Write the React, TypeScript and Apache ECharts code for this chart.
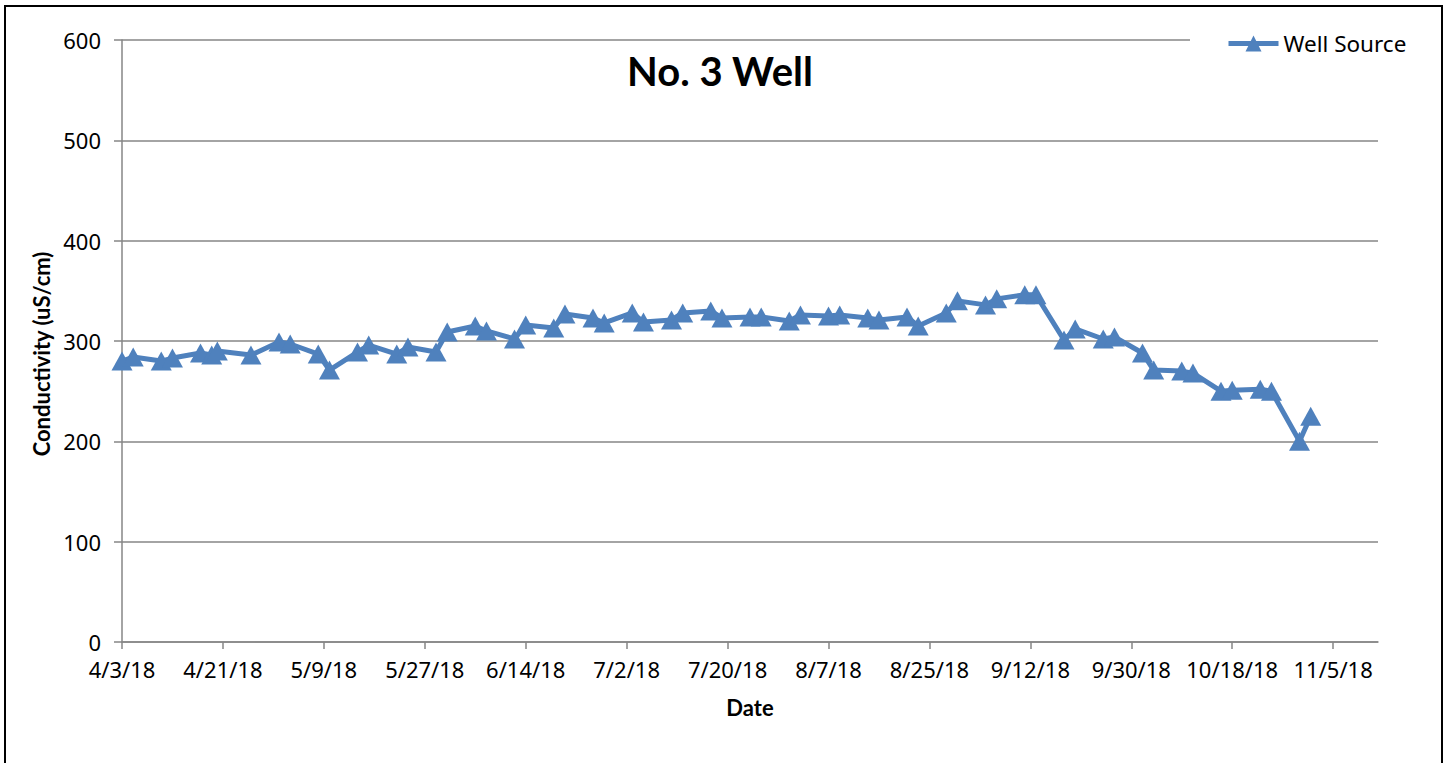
import React, { useEffect, useRef } from "react";
import * as echarts from "echarts";

const chartTitle = "No. 3 Well";
const seriesName = "Well Source";
const yAxisName = "Conductivity (uS/cm)";
const xAxisName = "Date";

const xTickLabels = [
  "4/3/18", "4/21/18", "5/9/18", "5/27/18", "6/14/18", "7/2/18", "7/20/18",
  "8/7/18", "8/25/18", "9/12/18", "9/30/18", "10/18/18", "11/5/18",
];
const xAxisStart = "4/3/18";
const xAxisEnd = "11/13/18";

const yTicks = [0, 100, 200, 300, 400, 500, 600];

const sampleDates = [
  "4/3/18", "4/5/18", "4/10/18", "4/12/18", "4/17/18", "4/19/18", "4/20/18", "4/26/18",
  "5/1/18", "5/3/18", "5/8/18", "5/10/18", "5/15/18", "5/17/18", "5/22/18", "5/24/18",
  "5/29/18", "5/31/18", "6/5/18", "6/7/18", "6/12/18", "6/14/18", "6/19/18", "6/21/18",
  "6/26/18", "6/28/18", "7/3/18", "7/5/18", "7/10/18", "7/12/18", "7/17/18", "7/19/18",
  "7/24/18", "7/26/18", "7/31/18", "8/2/18", "8/7/18", "8/9/18", "8/14/18", "8/16/18",
  "8/21/18", "8/23/18", "8/28/18", "8/30/18", "9/4/18", "9/6/18", "9/11/18", "9/13/18",
  "9/18/18", "9/20/18", "9/25/18", "9/27/18", "10/2/18", "10/4/18", "10/9/18", "10/11/18",
  "10/16/18", "10/18/18", "10/23/18", "10/25/18", "10/30/18", "11/1/18",
];
const conductivity = [
  280, 284, 280, 283, 288, 286, 290, 286,
  299, 297, 287, 271, 289, 296, 287, 294,
  289, 309, 315, 310, 302, 316, 313, 327,
  323, 318, 328, 319, 321, 328, 330, 323,
  324, 324, 320, 326, 325, 326, 323, 321,
  324, 315, 328, 340, 336, 342, 346, 346,
  301, 312, 302, 304, 288, 271, 270, 268,
  250, 251, 252, 250, 200, 225,
];

const DAY = 86400000;
const parseDate = (s: string): number => {
  const [m, d, y] = s.split("/").map(Number);
  return Date.UTC(2000 + y, m - 1, d);
};
// Days since axis start
const toDay = (s: string): number => Math.round((parseDate(s) - parseDate(xAxisStart)) / DAY);

const lineColor = "#4F81BD";
const axisColor = "#868686";

export default function App() {
  const ref = useRef<HTMLDivElement>(null);

  useEffect(() => {
    if (!ref.current) return;
    const chart = echarts.init(ref.current, null, { renderer: "svg" });
    const tickValues = xTickLabels.map(toDay);
    const data = sampleDates.map((d, i) => [toDay(d), conductivity[i]]);

    chart.setOption({
      animation: false,
      backgroundColor: "#ffffff",
      title: {
        text: chartTitle,
        left: 715,
        top: 46,
        textAlign: "center",
        textStyle: {
          fontFamily: "Lato",
          fontWeight: "bold",
          fontSize: 40,
          color: "#000",
        },
      },
      legend: {
        data: [seriesName],
        left: 1190,
        top: 24,
        padding: [8, 30, 8, 36],
        backgroundColor: "#ffffff",
        itemWidth: 50,
        itemHeight: 20,
        itemGap: 4,
        lineStyle: { width: 5 },
        textStyle: { fontFamily: "Noto Sans", fontSize: 22.5, color: "#000" },
      },
      grid: { left: 122, top: 40, right: 72, bottom: 121, containLabel: false },
      xAxis: {
        type: "value",
        min: toDay(xAxisStart),
        max: toDay(xAxisEnd),
        axisLine: { show: true, onZero: false, lineStyle: { color: axisColor, width: 1.5 } },
        axisTick: {
          show: true,
          inside: false,
          length: 7,
          customValues: tickValues,
          lineStyle: { color: axisColor, width: 1.5 },
        },
        axisLabel: {
          customValues: tickValues,
          margin: 16,
          fontFamily: "Noto Sans",
          fontSize: 22,
          color: "#000",
          formatter: (v: number) => {
            const i = tickValues.indexOf(Math.round(v));
            return i >= 0 ? xTickLabels[i] : "";
          },
        },
        splitLine: { show: false },
      },
      yAxis: {
        type: "value",
        min: yTicks[0],
        max: yTicks[yTicks.length - 1],
        interval: yTicks[1] - yTicks[0],
        axisLine: { show: true, lineStyle: { color: axisColor, width: 1.5 } },
        axisTick: { show: true, inside: false, length: 8, lineStyle: { color: axisColor, width: 1.5 } },
        axisLabel: {
          margin: 21,
          fontFamily: "Noto Sans",
          fontSize: 22,
          color: "#000",
        },
        splitLine: { show: true, lineStyle: { color: axisColor, width: 1.5 } },
      },
      graphic: [
        {
          type: "rect",
          shape: { x: 5, y: 6, width: 1437, height: 800 },
          style: { fill: "none", stroke: "#000", lineWidth: 2 },
          silent: true,
        },
        {
          type: "text",
          x: 41,
          y: 354,
          rotation: Math.PI / 2,
          style: {
            text: yAxisName,
            fontFamily: "Lato",
            fontWeight: "bold",
            fontSize: 22,
            fill: "#000",
            align: "center",
            verticalAlign: "middle",
          },
        },
        {
          type: "text",
          x: 750,
          y: 707,
          style: {
            text: xAxisName,
            fontFamily: "Lato",
            fontWeight: "bold",
            fontSize: 22,
            fill: "#000",
            align: "center",
            verticalAlign: "middle",
          },
        },
      ],
      series: [
        {
          name: seriesName,
          type: "line",
          data,
          symbol: "triangle",
          symbolSize: [21, 19],
          showAllSymbol: true,
          lineStyle: { color: lineColor, width: 5 },
          itemStyle: { color: lineColor },
        },
      ],
    });

    return () => chart.dispose();
  }, []);

  return (
    <div style={{ position: "absolute", left: 0, top: 0, width: 1450, height: 763, background: "#fff" }}>
      <div ref={ref} style={{ width: 1450, height: 763 }} />
    </div>
  );
}
